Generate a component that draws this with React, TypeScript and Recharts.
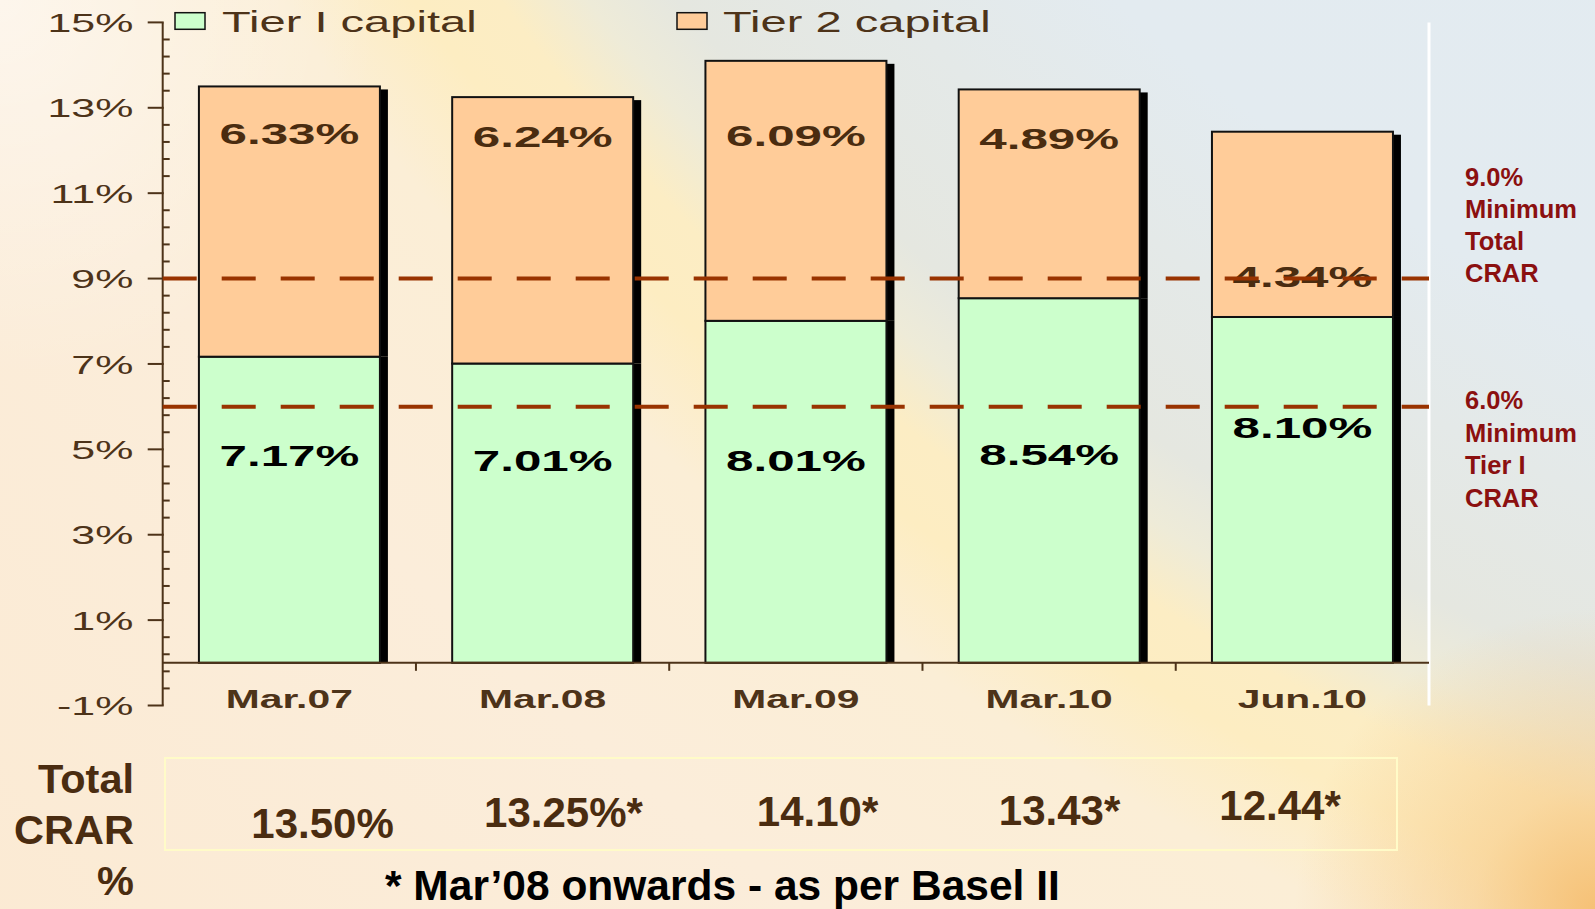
import React from 'react';
import { BarChart, Bar, XAxis, YAxis, ReferenceLine } from 'recharts';

// ---------- data ----------
const CATEGORIES = ['Mar.07', 'Mar.08', 'Mar.09', 'Mar.10', 'Jun.10'];
const TIER1 = [7.17, 7.01, 8.01, 8.54, 8.1];
const TIER2 = [6.33, 6.24, 6.09, 4.89, 4.34];
const SERIES_NAMES = ['Tier I capital', 'Tier 2 capital'];
const TOTAL_CRAR = ['13.50%', '13.25%*', '14.10*', '13.43*', '12.44*'];
const Y_MAJOR_TICKS = [-1, 1, 3, 5, 7, 9, 11, 13, 15];
const MIN_TOTAL_CRAR = 9;
const MIN_TIER1_CRAR = 6;
const TOTAL_TITLE = ['Total', 'CRAR', '%'];
const NOTE_TOTAL = ['9.0%', 'Minimum', 'Total', 'CRAR'];
const NOTE_TIER1 = ['6.0%', 'Minimum', 'Tier I', 'CRAR'];
const FOOTNOTE = '* Mar\u201908 onwards - as per Basel II';

// ---------- style / layout ----------
const W = 1595;
const H = 909;
const PLOT_LEFT = 162.7;
const PLOT_RIGHT = 1429;
const PLOT_TOP = 22.4;
const PLOT_BOTTOM = 705.5;
const CHART_H = 760;
const Y_MIN = -1;
const Y_MAX = 15;
const Y_TICKS = Array.from({ length: 41 }, (_, i) => Math.round((Y_MIN + 0.4 * i) * 10) / 10);
const GREEN = '#CCFFCC';
const ORANGE = '#FFCC99';
const AXIS = '#4D3319';
const BROWN_TEXT = '#4A2C10';
const DARK_RED = '#8B1010';
const DASH = '#993300';
const SHADOW_W = 8;
const FONT = '"Liberation Sans", Arial, sans-serif';
// label anchors (value units) where the in-bar labels sit
const TIER1_LABEL_AT = [4.85, 4.73, 4.73, 4.87, 5.51];
const TIER2_LABEL_AT = [12.4, 12.33, 12.36, 12.29, 9.04];
// bottom table text placement
const TOTAL_POS = [
  [322.5, 838],
  [563.5, 827],
  [817.5, 826],
  [1059.5, 825],
  [1280, 820],
];

const rows = CATEGORIES.map((c, i) => ({ period: c, tier1: TIER1[i], tier2: TIER2[i] }));

const SText = ({ x, y, sx = 1, anchor = 'start', size, weight = 'normal', fill, children }: any) => (
  <text
    transform={`translate(${x} ${y}) scale(${sx} 1)`}
    textAnchor={anchor}
    fontSize={size}
    fontWeight={weight}
    fill={fill}
    fontFamily={FONT}
  >
    {children}
  </text>
);

const idxOf = (props: any) => {
  const p = props.payload && props.payload.period;
  const i = CATEGORIES.indexOf(p);
  return i >= 0 ? i : props.index ?? 0;
};

const Tier1Shape = (props: any) => {
  const { x, y, width, height } = props;
  const i = idxOf(props);
  const v = TIER1[i];
  const ppu = height / v;
  const labelY = y + height - TIER1_LABEL_AT[i] * ppu;
  return (
    <g>
      <rect x={x + width} y={y} width={SHADOW_W} height={height} fill="#000" />
      <rect x={x} y={y} width={width} height={height} fill={GREEN} stroke="#111" strokeWidth={2} />
      <SText x={x + width / 2} y={labelY + 10.5} sx={1.7} anchor="middle" size={29} weight="bold" fill="#000">
        {`${v.toFixed(2)}%`}
      </SText>
    </g>
  );
};

const Tier2Shape = (props: any) => {
  const { x, y, width, height } = props;
  const i = idxOf(props);
  const v = TIER2[i];
  const top = TIER1[i] + v;
  const ppu = height / v;
  const labelY = y + (top - TIER2_LABEL_AT[i]) * ppu;
  return (
    <g>
      <rect x={x + width} y={y + 3} width={SHADOW_W} height={height - 3} fill="#000" />
      <rect x={x} y={y} width={width} height={height} fill={ORANGE} stroke="#111" strokeWidth={2} />
      <SText x={x + width / 2} y={labelY + 10.5} sx={1.7} anchor="middle" size={29} weight="bold" fill={BROWN_TEXT}>
        {`${v.toFixed(2)}%`}
      </SText>
    </g>
  );
};

const YTick = (props: any) => {
  const { x, y, payload } = props;
  const v = payload.value;
  if (Y_MAJOR_TICKS.includes(v)) {
    return (
      <g>
        <line x1={x - 15} x2={x + 1} y1={y} y2={y} stroke={AXIS} strokeWidth={2} />
        <SText x={x - 29.4} y={y + 9.6} sx={1.62} anchor="end" size={26.5} fill={AXIS}>
          {`${v}%`}
        </SText>
      </g>
    );
  }
  return <line x1={x} x2={x + 7} y1={y} y2={y} stroke={AXIS} strokeWidth={2} />;
};

const XTick = (props: any) => {
  const { x, y, payload } = props;
  const i = CATEGORIES.indexOf(payload.value);
  const band = (PLOT_RIGHT - PLOT_LEFT) / CATEGORIES.length;
  const ppu = (PLOT_BOTTOM - PLOT_TOP) / (Y_MAX - Y_MIN);
  const zeroY = y - (0 - Y_MIN) * ppu;
  return (
    <g>
      {i > 0 && (
        <line x1={x - band / 2} x2={x - band / 2} y1={zeroY} y2={zeroY + 8} stroke={AXIS} strokeWidth={2} />
      )}
      <SText x={x} y={y + 2.2} sx={1.6} anchor="middle" size={25.5} weight="bold" fill={AXIS}>
        {payload.value}
      </SText>
    </g>
  );
};

const background = [
  'radial-gradient(circle at 0px 0px, rgba(255,255,255,0.5) 0px, rgba(255,255,255,0) 380px)',
  'radial-gradient(circle at 1595px 909px, rgba(245,188,110,0.9) 0px, rgba(246,196,125,0.5) 120px, rgba(246,196,125,0) 300px)',
  'radial-gradient(circle at 2400px -1400px, #E2ECF3 0px, #E3EBF0 1900px, #E5E7E0 2220px, #EEEBD8 2290px, #FCEDC4 2360px, #FDEDC2 2430px, #FBEED6 2540px, #FBEDDA 2800px, #FBEAD3 3400px)',
].join(',');

export default function App() {
  const legendItems = [
    { name: SERIES_NAMES[0], color: GREEN, sx: 175, tx: 222 },
    { name: SERIES_NAMES[1], color: ORANGE, sx: 677, tx: 723 },
  ];
  return (
    <div
      style={{
        position: 'absolute',
        left: 0,
        top: 0,
        width: W,
        height: H,
        overflow: 'hidden',
        background,
      }}
    >
      <div style={{ position: 'absolute', left: 0, top: 0 }}>
        <BarChart
          width={W}
          height={CHART_H}
          data={rows}
          margin={{ top: PLOT_TOP, right: W - PLOT_RIGHT - 1, bottom: 0, left: 0 }}
          barCategoryGap="14.3%"
        >
          <XAxis
            dataKey="period"
            axisLine={false}
            tickLine={false}
            tickSize={0}
            tickMargin={0}
            interval={0}
            height={CHART_H - PLOT_BOTTOM}
            tick={<XTick />}
          />
          <YAxis
            type="number"
            domain={[Y_MIN, Y_MAX]}
            ticks={Y_TICKS}
            interval={0}
            width={PLOT_LEFT}
            tickSize={0}
            tickMargin={0}
            tickLine={false}
            axisLine={{ stroke: AXIS, strokeWidth: 2 }}
            tick={<YTick />}
            allowDataOverflow
          />
          <YAxis
            yAxisId="right"
            orientation="right"
            type="number"
            domain={[0, 1]}
            allowDataOverflow
            width={1}
            tick={false}
            tickLine={false}
            axisLine={{ stroke: '#FFFFFF', strokeWidth: 3 }}
          />
          <Bar dataKey="tier1" name={SERIES_NAMES[0]} stackId="a" fill={GREEN} shape={<Tier1Shape />} isAnimationActive={false} />
          <Bar dataKey="tier2" name={SERIES_NAMES[1]} stackId="a" fill={ORANGE} shape={<Tier2Shape />} isAnimationActive={false} />
          <ReferenceLine y={0} stroke={AXIS} strokeWidth={2} zIndex={2400} />
          <ReferenceLine y={MIN_TOTAL_CRAR} stroke={DASH} strokeWidth={4} strokeDasharray="34 25" zIndex={2500} />
          <ReferenceLine y={MIN_TIER1_CRAR} stroke={DASH} strokeWidth={4} strokeDasharray="34 25" zIndex={2500} />
        </BarChart>
      </div>

      <svg width={W} height={H} style={{ position: 'absolute', left: 0, top: 0, pointerEvents: 'none' }}>
        {legendItems.map((it) => (
          <g key={it.name}>
            <rect x={it.sx} y={12.7} width={30} height={16.6} fill={it.color} stroke="#111" strokeWidth={1.5} />
            <SText x={it.tx} y={31.5} sx={1.57} size={30} fill={AXIS}>
              {it.name}
            </SText>
          </g>
        ))}

        {NOTE_TOTAL.map((t, i) => (
          <SText key={'a' + i} x={1465} y={186 + i * 32} size={25.5} weight="bold" fill={DARK_RED}>
            {t}
          </SText>
        ))}
        {NOTE_TIER1.map((t, i) => (
          <SText key={'b' + i} x={1465} y={409 + i * 32.7} size={25.5} weight="bold" fill={DARK_RED}>
            {t}
          </SText>
        ))}

        <rect x={165} y={758} width={1232} height={92} fill="none" stroke="#FFFBC8" strokeWidth={2} />
        {TOTAL_TITLE.map((t, i) => (
          <SText key={'t' + i} x={134} y={793 + i * 51} anchor="end" size={41.5} weight="bold" fill={BROWN_TEXT}>
            {t}
          </SText>
        ))}
        {TOTAL_CRAR.map((t, i) => (
          <SText key={'v' + i} x={TOTAL_POS[i][0]} y={TOTAL_POS[i][1]} anchor="middle" size={42} weight="bold" fill={BROWN_TEXT}>
            {t}
          </SText>
        ))}
        <SText x={385} y={900} size={42.5} weight="bold" fill="#000">
          {FOOTNOTE}
        </SText>
      </svg>
    </div>
  );
}
